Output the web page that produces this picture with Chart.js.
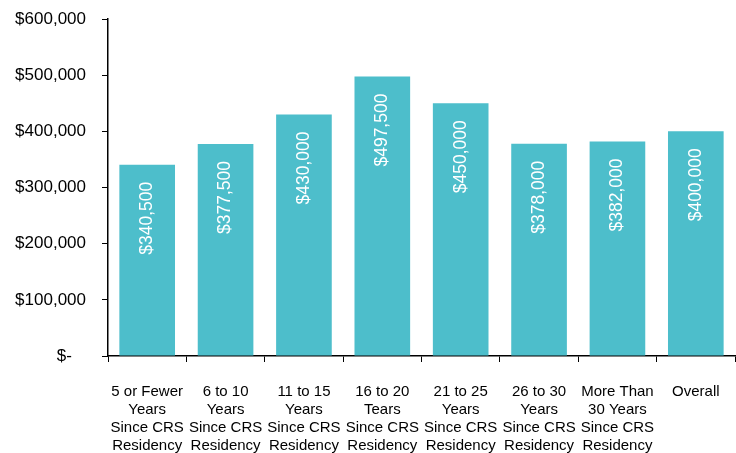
<!DOCTYPE html>
<html>
<head>
<meta charset="utf-8">
<script src="https://cdn.jsdelivr.net/npm/chart.js@4/dist/chart.umd.min.js"></script>
<style>
html,body{margin:0;padding:0;background:#fff;}
#wrap{width:736px;height:453px;}
</style>
</head>
<body>
<div id="wrap"><canvas id="c" width="736" height="453"></canvas></div>
<script>
const categories = [
  ["5 or Fewer","Years","Since CRS","Residency"],
  ["6 to 10","Years","Since CRS","Residency"],
  ["11 to 15","Years","Since CRS","Residency"],
  ["16 to 20","Tears","Since CRS","Residency"],
  ["21 to 25","Years","Since CRS","Residency"],
  ["26 to 30","Years","Since CRS","Residency"],
  ["More Than","30 Years","Since CRS","Residency"],
  ["Overall"]
];
const values = [340500, 377500, 430000, 497500, 450000, 378000, 382000, 400000];
const yTicks = [0, 100000, 200000, 300000, 400000, 500000, 600000];

const fmt = v => v === 0 ? "$-   " : "$" + v.toLocaleString("en-US");

const barLabels = {
  id: "barLabels",
  afterDatasetsDraw(chart) {
    const ctx = chart.ctx;
    const meta = chart.getDatasetMeta(0);
    ctx.save();
    ctx.fillStyle = "#ffffff";
    ctx.font = "17.5px 'Liberation Sans', Arial, sans-serif";
    ctx.textAlign = "right";
    ctx.textBaseline = "middle";
    meta.data.forEach((bar, i) => {
      ctx.save();
      ctx.translate(bar.x, bar.y + 17);
      ctx.rotate(-Math.PI / 2);
      ctx.fillText("$" + values[i].toLocaleString("en-US"), 0, 0);
      ctx.restore();
    });
    ctx.restore();
  }
};

new Chart(document.getElementById("c"), {
  type: "bar",
  data: {
    labels: categories,
    datasets: [{
      data: values,
      backgroundColor: "#4DBECB",
      borderWidth: 0,
      categoryPercentage: 1,
      barPercentage: 0.71
    }]
  },
  options: {
    responsive: false,
    animation: false,
    devicePixelRatio: 1,
    layout: { padding: { top: 19, right: 1, left: 0, bottom: 0 } },
    plugins: { legend: { display: false }, tooltip: { enabled: false } },
    scales: {
      x: {
        afterFit: s => { s.height = 97; s.paddingRight = 0; s.paddingLeft = 0; },
        grid: { offset: true, drawOnChartArea: false, tickLength: 6, color: "#000", tickColor: "#000", lineWidth: 1 },
        border: { color: "#000", width: 1.5 },
        ticks: {
          color: "#000",
          font: { family: "'Liberation Sans', Arial, sans-serif", size: 15, lineHeight: 1.2 },
          padding: 21,
          maxRotation: 0,
          minRotation: 0,
          autoSkip: false
        }
      },
      y: {
        min: 0,
        max: 600000,
        afterBuildTicks: s => { s.ticks = yTicks.map(v => ({ value: v })); },
        afterFit: s => { s.width = 108; s.paddingTop = 0; s.paddingBottom = 0; },
        grid: { drawOnChartArea: false, tickLength: 6, color: "#000", tickColor: "#000", lineWidth: 1 },
        border: { color: "#000", width: 1.5 },
        ticks: {
          color: "#000",
          font: { family: "'Liberation Sans', Arial, sans-serif", size: 17 },
          padding: 16,
          callback: v => fmt(v)
        }
      }
    }
  },
  plugins: [barLabels]
});
</script>
</body>
</html>
